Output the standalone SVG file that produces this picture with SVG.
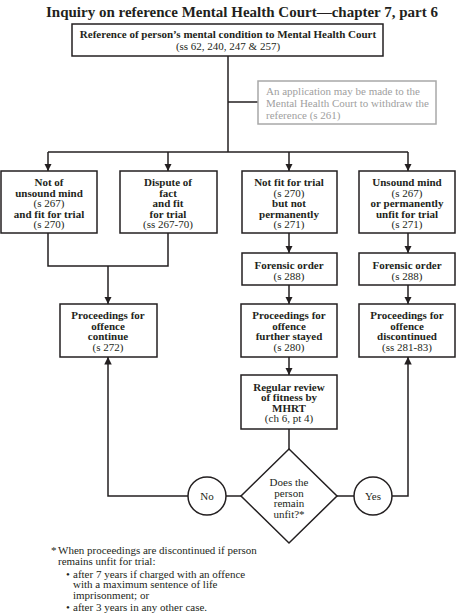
<svg xmlns="http://www.w3.org/2000/svg" width="457" height="613" viewBox="0 0 457 613">
<style>
text{font-family:"Liberation Serif","Times New Roman",serif;font-size:11px;fill:#231f20;text-anchor:middle}
.b{font-weight:bold}
.t{font-size:15px;font-weight:bold}
.g{fill:#a0a0a0;text-anchor:start}
.box{fill:#fff;stroke:#231f20;stroke-width:1.5}
.gbox{fill:#fff;stroke:#a8a8a8;stroke-width:1.5}
.ln{fill:none;stroke:#231f20;stroke-width:1.5}
.l{text-anchor:start}
</style>
<defs>
<marker id="ah" viewBox="0 0 10 10" refX="10" refY="5" markerWidth="5" markerHeight="5.5" orient="auto" markerUnits="strokeWidth">
<path d="M0,0 L10,5 L0,10 z" fill="#231f20"/>
</marker>
</defs>
<text class="t" x="242" y="17">Inquiry on reference Mental Health Court—chapter 7, part 6</text>
<g id="connectors">
<path class="ln" d="M228,56 V152"/>
<path class="ln" d="M228,102 H258"/>
<path class="ln" d="M48,152 H408"/>
<path class="ln" d="M48,152 V171" marker-end="url(#ah)"/>
<path class="ln" d="M168,152 V171" marker-end="url(#ah)"/>
<path class="ln" d="M289,152 V171" marker-end="url(#ah)"/>
<path class="ln" d="M408,152 V171" marker-end="url(#ah)"/>
<path class="ln" d="M48,233 V266 H168 V233"/>
<path class="ln" d="M108,266 V304" marker-end="url(#ah)"/>
<path class="ln" d="M289,233 V253" marker-end="url(#ah)"/>
<path class="ln" d="M408,233 V253" marker-end="url(#ah)"/>
<path class="ln" d="M289,285 V304" marker-end="url(#ah)"/>
<path class="ln" d="M408,285 V304" marker-end="url(#ah)"/>
<path class="ln" d="M289,357 V375" marker-end="url(#ah)"/>
<path class="ln" d="M289,429 V449"/>
<path class="ln" d="M241,496 H226"/>
<path class="ln" d="M188,496 H108 V357" marker-end="url(#ah)"/>
<path class="ln" d="M337,496 H354"/>
<path class="ln" d="M392,496 H408 V357" marker-end="url(#ah)"/>
</g>
<g id="ref">
<rect class="box" x="72" y="24" width="311" height="32"/>
<text class="b" x="228" y="38">Reference of person’s mental condition to Mental Health Court</text>
<text x="228" y="50">(ss 62, 240, 247 &amp; 257)</text>
</g>
<g id="withdraw">
<rect class="gbox" x="258" y="81" width="178" height="43"/>
<text class="g" x="266" y="95">An application may be made to the</text>
<text class="g" x="266" y="107">Mental Health Court to withdraw the</text>
<text class="g" x="266" y="119">reference (s 261)</text>
</g>
<g id="n1">
<rect class="box" x="1" y="171" width="96" height="62"/>
<text class="b" x="49" y="186">Not of</text>
<text class="b" x="49" y="196.5">unsound mind</text>
<text x="49" y="207">(s 267)</text>
<text class="b" x="49" y="217.5">and fit for trial</text>
<text x="49" y="228">(s 270)</text>
</g>
<g id="n2">
<rect class="box" x="120" y="171" width="97" height="62"/>
<text class="b" x="168" y="186">Dispute of</text>
<text class="b" x="168" y="196.5">fact</text>
<text class="b" x="168" y="207">and fit</text>
<text class="b" x="168" y="217.5">for trial</text>
<text x="168" y="228">(ss 267-70)</text>
</g>
<g id="n3">
<rect class="box" x="242" y="171" width="95" height="62"/>
<text class="b" x="289" y="186">Not fit for trial</text>
<text x="289" y="196.5">(s 270)</text>
<text class="b" x="289" y="207">but not</text>
<text class="b" x="289" y="217.5">permanently</text>
<text x="289" y="228">(s 271)</text>
</g>
<g id="n4">
<rect class="box" x="359" y="171" width="96" height="62"/>
<text class="b" x="407" y="186">Unsound mind</text>
<text x="407" y="196.5">(s 267)</text>
<text class="b" x="407" y="207">or permanently</text>
<text class="b" x="407" y="217.5">unfit for trial</text>
<text x="407" y="228">(s 271)</text>
</g>
<g id="fo3">
<rect class="box" x="242" y="253" width="95" height="32"/>
<text class="b" x="289" y="268.5">Forensic order</text>
<text x="289" y="279.5">(s 288)</text>
</g>
<g id="fo4">
<rect class="box" x="359" y="253" width="96" height="32"/>
<text class="b" x="407" y="268.5">Forensic order</text>
<text x="407" y="279.5">(s 288)</text>
</g>
<g id="pc">
<rect class="box" x="60" y="304" width="97" height="53"/>
<text class="b" x="108" y="319">Proceedings for</text>
<text class="b" x="108" y="329.5">offence</text>
<text class="b" x="108" y="340">continue</text>
<text x="108" y="350.5">(s 272)</text>
</g>
<g id="ps">
<rect class="box" x="241" y="304" width="96" height="53"/>
<text class="b" x="289" y="319">Proceedings for</text>
<text class="b" x="289" y="329.5">offence</text>
<text class="b" x="289" y="340">further stayed</text>
<text x="289" y="350.5">(s 280)</text>
</g>
<g id="pd">
<rect class="box" x="359" y="304" width="96" height="53"/>
<text class="b" x="407" y="319">Proceedings for</text>
<text class="b" x="407" y="329.5">offence</text>
<text class="b" x="407" y="340">discontinued</text>
<text x="407" y="350.5">(ss 281-83)</text>
</g>
<g id="rr">
<rect class="box" x="241" y="375" width="96" height="54"/>
<text class="b" x="289" y="390.5">Regular review</text>
<text class="b" x="289" y="401">of fitness by</text>
<text class="b" x="289" y="411.5">MHRT</text>
<text x="289" y="422">(ch 6, pt 4)</text>
</g>
<g id="dec">
<polygon class="box" points="289,449 337,496 289,543 241,496"/>
<text x="289" y="485.5">Does the</text>
<text x="289" y="496.5">person</text>
<text x="289" y="507">remain</text>
<text x="289" y="517.5">unfit?*</text>
</g>
<g id="no">
<circle class="box" cx="207" cy="496" r="19"/>
<text x="207" y="500">No</text>
</g>
<g id="yes">
<circle class="box" cx="373" cy="496" r="19"/>
<text x="373" y="500">Yes</text>
</g>
<g id="note">
<text class="l" x="51" y="554">*</text>
<text class="l" x="58" y="554">When proceedings are discontinued if person</text>
<text class="l" x="58" y="564.5">remains unfit for trial:</text>
<text class="l" x="66" y="577.5">•</text>
<text class="l" x="73" y="577.5">after 7 years if charged with an offence</text>
<text class="l" x="73" y="588">with a maximum sentence of life</text>
<text class="l" x="73" y="598.5">imprisonment; or</text>
<text class="l" x="66" y="611">•</text>
<text class="l" x="73" y="611">after 3 years in any other case.</text>
</g>
</svg>
